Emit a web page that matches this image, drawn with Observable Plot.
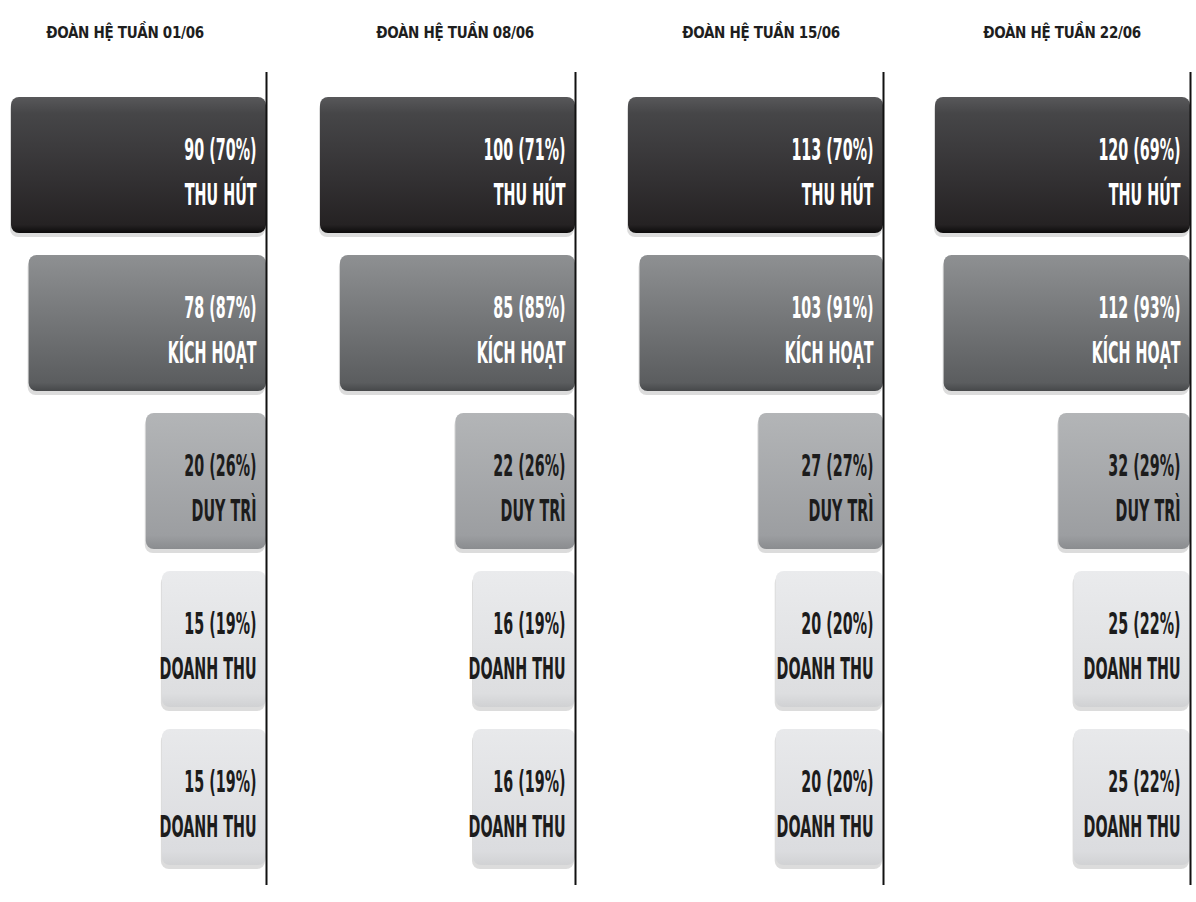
<!DOCTYPE html>
<html>
<head>
<meta charset="utf-8">
<script src="https://cdn.jsdelivr.net/npm/d3@7"></script>
<script src="https://cdn.jsdelivr.net/npm/@observablehq/plot@0.6"></script>
<style>
  html, body { margin: 0; padding: 0; background: #fff; }
  body { width: 1196px; height: 902px; position: relative; overflow: hidden;
         font-family: "DejaVu Sans Condensed", "DejaVu Sans", sans-serif; }
  .panel { position: absolute; top: 0; }
  .title { position: absolute; top: 24px; transform: translateX(-50%); white-space: nowrap;
           font-family: "DejaVu Sans Condensed", "DejaVu Sans", sans-serif;
           font-weight: bold; font-size: 15px; color: #1e1e1e; letter-spacing: -0.3px; }
</style>
</head>
<body>
<script>
// ---- data ----
const weeks = ["ĐOÀN HỆ TUẦN 01/06", "ĐOÀN HỆ TUẦN 08/06", "ĐOÀN HỆ TUẦN 15/06", "ĐOÀN HỆ TUẦN 22/06"];
const stages = ["THU HÚT", "KÍCH HOẠT", "DUY TRÌ", "DOANH THU", "DOANH THU"];
const week1Values = [90, 78, 20, 15, 15];
const week1Pct    = [70, 87, 26, 19, 19];
const week2Values = [100, 85, 22, 16, 16];
const week2Pct    = [71, 85, 26, 19, 19];
const week3Values = [113, 103, 27, 20, 20];
const week3Pct    = [70, 91, 27, 20, 20];
const week4Values = [120, 112, 32, 25, 25];
const week4Pct    = [69, 93, 29, 22, 22];

// ---- styles / layout ----
const gradients = [
  [["0%", "#58585a"], ["12%", "#464648"], ["60%", "#333133"], ["94%", "#252223"], ["100%", "#0c0b0b"]],
  [["0%", "#8e9092"], ["50%", "#737577"], ["94%", "#5b5d5f"], ["100%", "#46484a"]],
  [["0%", "#b3b5b7"], ["90%", "#9c9ea1"], ["100%", "#8a8c8f"]],
  [["0%", "#eaebed"], ["90%", "#dddee0"], ["100%", "#d0d1d3"]],
  [["0%", "#e8e9eb"], ["90%", "#dbdcdf"], ["100%", "#d1d2d4"]]
];
const textColors = ["#ffffff", "#ffffff", "#1c1c1c", "#1c1c1c", "#1c1c1c"];
const panelLefts = [0, 309, 617, 924];
const titleCenters = [125, 455, 761, 1062];
const W = 270, AXIS = 266, SQUEEZE = 0.53;

const panels = [
  {title: weeks[0], values: week1Values, pct: week1Pct},
  {title: weeks[1], values: week2Values, pct: week2Pct},
  {title: weeks[2], values: week3Values, pct: week3Pct},
  {title: weeks[3], values: week4Values, pct: week4Pct}
];

panels.forEach((p, k) => {
  const data = stages.map((s, i) => ({row: i, stage: s, value: p.values[i], pct: p.pct[i]}));
  const maxV = d3.max(data, d => d.value);
  const font = "DejaVu Sans Condensed, DejaVu Sans, sans-serif";
  const svg = Plot.plot({
    width: W, height: 902,
    marginTop: 72, marginBottom: 17, marginLeft: 0, marginRight: W - AXIS,
    x: {type: "sqrt", domain: [0, maxV], range: [AXIS, AXIS - 255], axis: null},
    y: {type: "band", domain: d3.range(stages.length), range: [95, 867], paddingInner: 0.139, paddingOuter: 0, axis: null},
    color: {type: "identity"},
    style: {background: "transparent"},
    marks: [
      Plot.barX(data, {x: "value", y: "row", fill: "#9a9a9a", fillOpacity: 0.35, rx: 8, dy: 4, dx: -1}),
      Plot.barX(data, {x: "value", y: "row", fill: d => `url(#g${k}_${d.row})`, rx: 8}),
      Plot.text(data, {y: "row", frameAnchor: "right", textAnchor: "end", dx: -10, dy: -15,
        text: d => `${d.value} (${d.pct}%)`, fill: d => textColors[d.row],
        fontSize: 30, fontWeight: "bold", fontFamily: font}),
      Plot.text(data, {y: "row", frameAnchor: "right", textAnchor: "end", dx: -10, dy: 30,
        text: "stage", fill: d => textColors[d.row],
        fontSize: 30, fontWeight: "bold", fontFamily: font}),
      Plot.ruleX([0], {stroke: "#111", strokeWidth: 2})
    ]
  });
  const defs = d3.select(svg).insert("defs", ":first-child");
  gradients.forEach((stops, i) => {
    const g = defs.append("linearGradient").attr("id", `g${k}_${i}`)
      .attr("x1", 0).attr("y1", 0).attr("x2", 0).attr("y2", 1);
    stops.forEach(([o, c]) => g.append("stop").attr("offset", o).attr("stop-color", c));
  });
  // condense the labels horizontally, anchored at their right end
  svg.querySelectorAll("g[aria-label=text] text").forEach(t => {
    const tr = t.getAttribute("transform");
    if (tr && /translate/.test(tr)) {
      t.setAttribute("transform", tr + ` scale(${SQUEEZE},1)`);
    } else {
      const x = +(t.getAttribute("x") || 0), y = +(t.getAttribute("y") || 0);
      t.removeAttribute("x"); t.removeAttribute("y");
      t.setAttribute("transform", `translate(${x},${y}) ` + (tr || "") + ` scale(${SQUEEZE},1)`);
    }
  });
  const wrap = document.createElement("div");
  wrap.className = "panel";
  wrap.style.left = panelLefts[k] + "px";
  wrap.style.width = W + "px";
  wrap.appendChild(svg);
  document.body.appendChild(wrap);
  const title = document.createElement("div");
  title.className = "title";
  title.textContent = p.title;
  title.style.left = titleCenters[k] + "px";
  document.body.appendChild(title);
});
</script>
</body>
</html>
